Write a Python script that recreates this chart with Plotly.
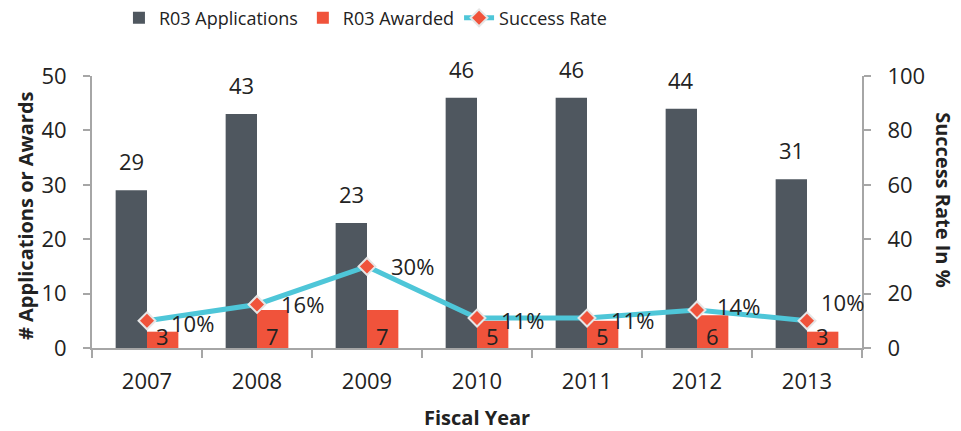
import plotly.graph_objects as go
from plotly.subplots import make_subplots

years = ["2007", "2008", "2009", "2010", "2011", "2012", "2013"]
applications = [29, 43, 23, 46, 46, 44, 31]
awarded = [3, 7, 7, 5, 5, 6, 3]
success_rate = [10, 16, 30, 11, 11, 14, 10]

# label nudges (pixels) for success-rate labels
pct_dx = [22, 22, 22, 22, 22, 18, 12]
pct_dy = [-2, 0, 0, -2, -2, 4, 19]

DARK = "#4F575F"
RED = "#F0533B"
CYAN = "#4EC6D8"
TXT = "#222222"
AX = "#A6A6A6"
FONT = "Open Sans"

fig = make_subplots(specs=[[{"secondary_y": True}]])

fig.add_trace(go.Bar(x=years, y=applications, name="R03 Applications",
                     marker=dict(color=DARK, line=dict(width=0))), secondary_y=False)
fig.add_trace(go.Bar(x=years, y=awarded, name="R03 Awarded",
                     marker=dict(color=RED, line=dict(width=0))), secondary_y=False)
fig.add_trace(go.Scatter(x=years, y=success_rate, name="Success Rate", mode="lines+markers",
                         line=dict(color=CYAN, width=5),
                         marker=dict(symbol="diamond", size=13, color=RED,
                                     line=dict(color="#E6E6E6", width=2))),
              secondary_y=True)

ann = []
half = 15.6
for i, y in enumerate(years):
    ann.append(dict(x=i, y=applications[i], xref="x", yref="y", text=str(applications[i]),
                    showarrow=False, xshift=-half, yshift=12, yanchor="bottom", xanchor="center",
                    font=dict(size=22, color=TXT, family=FONT)))
    ann.append(dict(x=i, y=0, xref="x", yref="y", text=str(awarded[i]),
                    showarrow=False, xshift=half, yshift=-5, yanchor="bottom", xanchor="center",
                    font=dict(size=22, color=TXT, family=FONT)))
    ann.append(dict(x=i, y=success_rate[i], xref="x", yref="y2", text=f"{success_rate[i]}%",
                    showarrow=False, xshift=pct_dx[i], yshift=pct_dy[i], xanchor="left",
                    yanchor="middle", font=dict(size=22, color=TXT, family=FONT)))

ann.append(dict(x=-0.087, y=0.485, xref="paper", yref="paper", text="<b># Applications or Awards</b>",
                textangle=-90, showarrow=False, xanchor="center", yanchor="middle",
                font=dict(size=20, color=TXT, family=FONT)))
ann.append(dict(x=1.106, y=0.545, xref="paper", yref="paper", text="<b>Success Rate In %</b>",
                textangle=90, showarrow=False, xanchor="center", yanchor="middle",
                font=dict(size=20, color=TXT, family=FONT)))
ann.append(dict(x=0.5, y=-0.257, xref="paper", yref="paper", text="<b>Fiscal Year</b>",
                showarrow=False, xanchor="center", yanchor="middle",
                font=dict(size=20, color=TXT, family=FONT)))

fig.update_layout(
    width=961, height=431,
    margin=dict(l=92, r=99, t=76, b=83, autoexpand=False),
    paper_bgcolor="white", plot_bgcolor="white",
    barmode="group", bargap=0.43, bargroupgap=0,
    font=dict(family=FONT, color=TXT, size=20),
    showlegend=True,
    legend=dict(orientation="h", x=0.035, xanchor="left", y=1.213, yanchor="middle",
                font=dict(size=18, color=TXT, family=FONT), itemwidth=30,
                traceorder="normal", bgcolor="rgba(0,0,0,0)"),
    annotations=ann,
)

fig.update_xaxes(type="category", range=[-0.5, len(years) - 0.5], domain=[0, 1], showline=True,
                 linecolor=AX, linewidth=2, automargin=False,
                 ticks="outside", tickson="boundaries", ticklen=8, tickcolor=AX, tickwidth=2,
                 tickfont=dict(size=22, color=TXT, family=FONT), showgrid=False,
                 ticklabelstandoff=13)
fig.update_yaxes(range=[0, 50], dtick=10, showline=True, linecolor=AX, linewidth=2,
                 ticks="outside", ticklen=7, tickcolor=AX, tickwidth=2, showgrid=False,
                 zeroline=False, tickfont=dict(size=22, color=TXT, family=FONT),
                 ticklabelstandoff=12, automargin=False, secondary_y=False)
fig.update_yaxes(range=[0, 100], dtick=20, showline=True, linecolor=AX, linewidth=2,
                 ticks="outside", ticklen=7, tickcolor=AX, tickwidth=2, showgrid=False,
                 zeroline=False, tickfont=dict(size=22, color=TXT, family=FONT),
                 ticklabelstandoff=12, automargin=False, secondary_y=True)

fig.write_html("out.html", config={"displayModeBar": False},
               post_script="document.body.style.margin='0';")
